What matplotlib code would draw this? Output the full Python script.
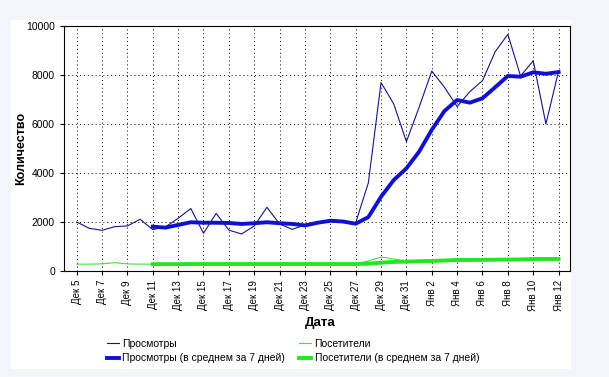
import matplotlib.pyplot as plt
from matplotlib.patches import Rectangle
import numpy as np

plt.rcParams['font.family'] = ['Liberation Sans', 'DejaVu Sans']

# days Dec 5 .. Jan 12
day_labels = ['Дек %d' % d for d in range(5, 32)] + ['Янв %d' % d for d in range(1, 13)]

views = [2000, 1740, 1660, 1810, 1840, 2110, 1690, 1800, 2150, 2550, 1540, 2350, 1670,
         1510, 1840, 2600, 1920, 1700, 1880, 1990, 2080, 2000, 1970, 3600, 7690, 6820,
         5280, 6680, 8160, 7500, 6710, 7320, 7770, 8950, 9660, 7960, 8580, 6000, 8160]
visitors = [280, 280, 290, 340, 290, 280, 280, 280, 280, 290, 280, 290, 280, 280, 290,
            290, 280, 280, 280, 280, 290, 290, 280, 410, 570, 490, 410, 400, 420, 450,
            460, 450, 460, 470, 480, 470, 490, 480, 490]

# 7-day averages start on Dec 11
avg_start = 6
views_avg = [1810, 1770, 1880, 1990, 1970, 1970, 1960, 1920, 1950, 1990, 1950, 1920,
             1860, 1970, 2050, 2020, 1930, 2200, 3030, 3710, 4190, 4870, 5760, 6530,
             6980, 6870, 7050, 7500, 7960, 7930, 8110, 8050, 8120]
visitors_avg = [280, 280, 280, 285, 285, 285, 285, 285, 285, 285, 285, 285, 285, 285,
                285, 285, 285, 300, 340, 370, 380, 400, 410, 430, 450, 450, 455, 460,
                465, 470, 490, 490, 490]

x = np.arange(len(day_labels))
x_avg = x[avg_start:]

fig = plt.figure(figsize=(6.09, 3.77), dpi=100, facecolor='#f3f5fa')
# white panel behind the chart
panel = Rectangle((11 / 609, 1 - 369 / 377), 560 / 609, 349 / 377,
                  transform=fig.transFigure, facecolor='white', edgecolor='none')
panel.set_zorder(-10)
fig.add_artist(panel)

ax = fig.add_axes([64 / 609, 1 - 271 / 377, 506 / 609, 245 / 377])
ax.set_zorder(1)
ax.set_facecolor('white')

l1, = ax.plot(x, views, color='#14148c', lw=0.8, label='Просмотры')
l3, = ax.plot(x, visitors, color='#44dd44', lw=0.8, label='Посетители')
l2, = ax.plot(x_avg, views_avg, color='#1010d0', lw=2.8, label='Просмотры (в среднем за 7 дней)')
l4, = ax.plot(x_avg, visitors_avg, color='#22e622', lw=2.8, label='Посетители (в среднем за 7 дней)')

ax.set_xlim(-1, 38.9)
ax.set_ylim(0, 10000)
ax.set_xticks(x[::2])
ax.set_xticklabels(day_labels[::2], rotation=90, fontsize=7)
ax.set_yticks(np.arange(0, 10001, 2000))
ax.tick_params(axis='y', labelsize=7.5, length=3, direction='out')
ax.tick_params(axis='x', length=3, direction='out')
ax.grid(True, color='black', linestyle=(0, (1, 3)), linewidth=0.7)
for s in ax.spines.values():
    s.set_linewidth(0.8)

ax.set_ylabel('Количество', fontsize=9, fontweight='bold')
ax.yaxis.set_label_coords(-0.073, 0.5)
fig.text(320 / 609, 1 - 323 / 377, 'Дата', fontsize=9.5, fontweight='bold',
         ha='center', va='center')

fig.legend(handles=[l1, l2, l3, l4], ncol=2, loc='center',
           bbox_to_anchor=(293 / 609, 1 - 351 / 377), frameon=False,
           fontsize=7.5, handlelength=1.2, handletextpad=0.3, columnspacing=1.3,
           labelspacing=0.45)

fig.savefig('out.png', dpi=100, facecolor=fig.get_facecolor())
